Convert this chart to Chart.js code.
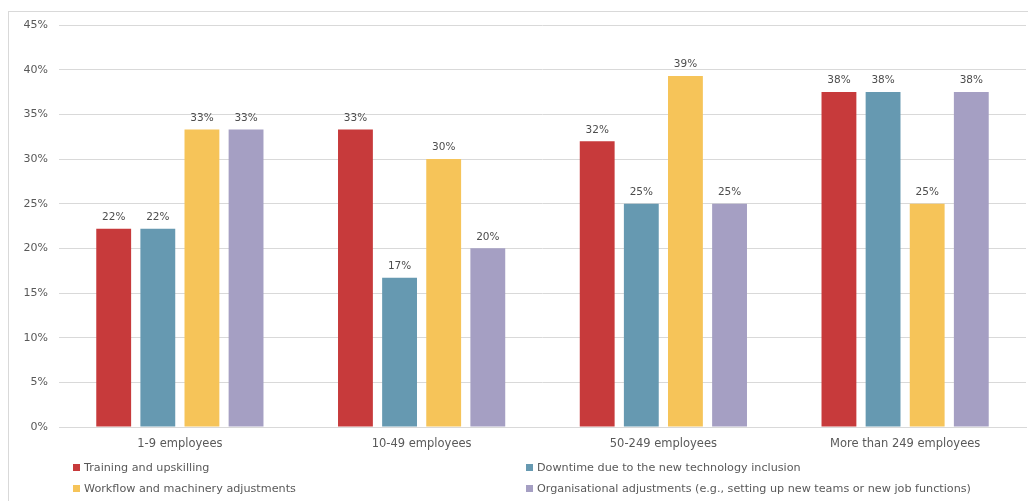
<!DOCTYPE html>
<html lang="en">
<head>
<meta charset="UTF-8">
<title>Challenges by company size</title>
<script src="https://cdn.jsdelivr.net/npm/chart.js"></script>
<style>
    html, body {
        margin: 0;
        padding: 0;
        background: #fff;
        overflow: hidden;
    }
    #wrap {
        position: relative;
        width: 1028px;
        height: 501px;
    }
    #frame {
        position: absolute;
        left: 8px;
        top: 11px;
        width: 1100px;
        height: 600px;
        border: 1px solid #d9d9d9;
        pointer-events: none;
    }
    canvas {
        position: absolute;
        left: 0;
        top: 0;
    }
    .legend {
        position: absolute;
        font-family: "DejaVu Sans", sans-serif;
        font-size: 11.2px;
        color: #595959;
        white-space: nowrap;
        line-height: 14px;
    }
    .legend span.box {
        display: inline-block;
        width: 7px;
        height: 7px;
        margin-right: 4px;
        vertical-align: 0px;
    }
</style>
</head>
<body>
<div id="wrap">
    <div id="frame"></div>
    <canvas id="chart" width="1028" height="501"></canvas>
    <div id="legend"></div>
</div>

<script>
const categories = ['1-9 employees', '10-49 employees', '50-249 employees', 'More than 249 employees'];

const seriesNames = [
    'Training and upskilling',
    'Downtime due to the new technology inclusion',
    'Workflow and machinery adjustments',
    'Organisational adjustments (e.g., setting up new teams or new job functions)'
];

// percentages per size class
const training     = [22.2, 33.3, 32.0, 37.5];
const downtime     = [22.2, 16.7, 25.0, 37.5];
const workflow     = [33.3, 30.0, 39.3, 25.0];
const organisation = [33.3, 20.0, 25.0, 37.5];

const yTicks = [0, 5, 10, 15, 20, 25, 30, 35, 40, 45];

const colours = ['#C73A3B', '#6699B1', '#F6C459', '#A59FC3'];
const textColour = '#595959';
const font = '"DejaVu Sans", sans-serif';

// value labels above each bar
const barLabels = {
    id: 'barLabels',
    afterDatasetsDraw(chart) {
        const ctx = chart.ctx;
        ctx.save();
        ctx.font = '10.5px ' + font;
        ctx.fillStyle = '#4d4d4d';
        ctx.textAlign = 'center';
        ctx.textBaseline = 'bottom';
        chart.data.datasets.forEach((ds, i) => {
            chart.getDatasetMeta(i).data.forEach((bar, j) => {
                ctx.fillText(Math.round(ds.data[j]) + '%', bar.x, bar.y - 6);
            });
        });
        ctx.restore();
    }
};

const allSeries = [training, downtime, workflow, organisation];

const chart = new Chart(document.getElementById('chart'), {
    type: 'bar',
    data: {
        labels: categories,
        datasets: allSeries.map((vals, i) => ({
            label: seriesNames[i],
            data: vals,
            backgroundColor: colours[i],
            borderWidth: 0,
            categoryPercentage: 0.73,
            barPercentage: 0.79
        }))
    },
    options: {
        responsive: false,
        animation: false,
        layout: {
            padding: { left: 0, right: 2, top: 25, bottom: 0 }
        },
        plugins: {
            legend: { display: false },
            tooltip: { enabled: false }
        },
        scales: {
            x: {
                grid: { display: false, drawTicks: false },
                border: { display: true, color: '#d9d9d9', width: 1 },
                ticks: {
                    color: textColour,
                    font: { family: font, size: 11.5 },
                    padding: 10
                },
                afterFit(scale) { scale.height = 74; }
            },
            y: {
                min: 0,
                max: 45,
                afterBuildTicks(scale) {
                    scale.ticks = yTicks.map(v => ({ value: v }));
                },
                grid: { color: '#d9d9d9', drawTicks: false },
                border: { display: false },
                ticks: {
                    color: textColour,
                    font: { family: font, size: 11 },
                    padding: 11,
                    callback: v => v + '%'
                },
                afterFit(scale) { scale.width = 59; }
            }
        }
    },
    plugins: [barLabels]
});

// two-column legend under the axis
const legendPos = [[73, 461], [526, 461], [73, 482], [526, 482]];
const legendEl = document.getElementById('legend');
seriesNames.forEach((name, i) => {
    const item = document.createElement('div');
    item.className = 'legend';
    item.style.left = legendPos[i][0] + 'px';
    item.style.top = legendPos[i][1] + 'px';
    item.innerHTML = '<span class="box" style="background:' + colours[i] + '"></span>' + name;
    legendEl.appendChild(item);
});
</script>
</body>
</html>
